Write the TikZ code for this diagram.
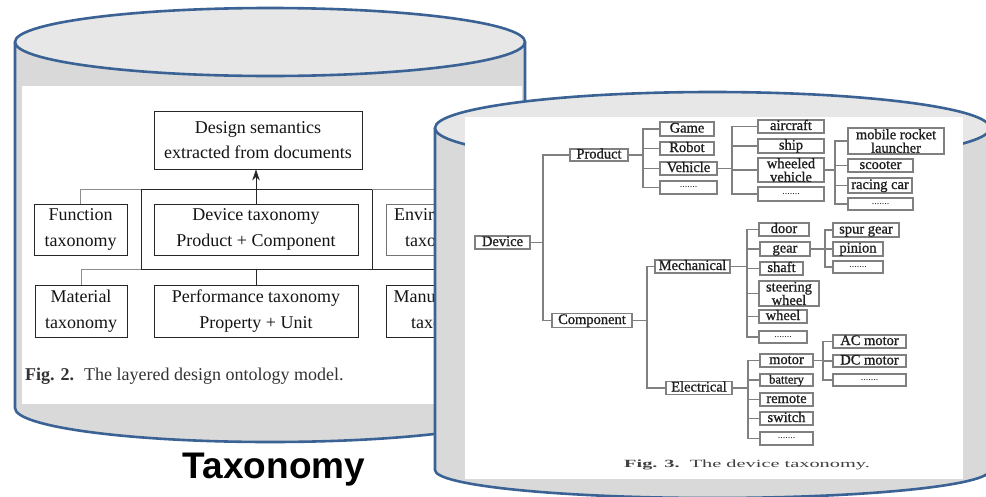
\documentclass[tikz,border=0pt]{standalone}
\usepackage{fontspec}
\usepackage{graphicx}
\setmainfont{Liberation Serif}
\setsansfont{Liberation Sans}
\newfontfamily\scanfont{Liberation Serif}[FakeBold=1.0]
\usetikzlibrary{arrows.meta}

\definecolor{cylblue}{HTML}{3A6294}
\definecolor{bodygray}{HTML}{D9D9D9}
\definecolor{topgray}{HTML}{E7E7E7}
\definecolor{treegray}{HTML}{808080}
\definecolor{inkgray}{HTML}{1E1E1E}

\newcommand\LeftFnt{\fontsize{18}{25.5}\selectfont}
\newcommand\RightFnt{\scanfont\fontsize{14.5}{13.5}\selectfont}
\newcommand\DotFnt{\fontsize{10}{10}\selectfont}

\tikzset{
  cylside/.style={draw=cylblue, line width=2.6pt, fill=bodygray},
  cyltop/.style={draw=cylblue, line width=2.6pt, fill=topgray},
  lbox/.style={draw=black!85, line width=0.9pt, inner sep=0pt, align=center,
    font=\LeftFnt, text=black!92},
  ldark/.style={draw=black!85, line width=0.9pt},
  llight/.style={draw=black!45, line width=0.9pt},
  rbox/.style={draw=treegray, line width=1.1pt, fill=white, inner sep=0pt,
    align=center, font=\RightFnt, text=inkgray},
  rone/.style={rbox, text height=9.5pt, text depth=2.5pt},
  rline/.style={draw=treegray, line width=1.1pt},
}

\begin{document}
\begin{tikzpicture}[x=1pt,y=-1pt]
\useasboundingbox (0,0) rectangle (986,496);
\clip (0,0) rectangle (986,496);
\fill[white] (0,0) rectangle (986,496);

% ---------------- left cylinder ----------------
\filldraw[cylside, line join=round] (15,42) -- (15,408)
  arc[start angle=180, end angle=360, x radius=255pt, y radius=34pt] -- (525,42);
\filldraw[cyltop] (270,42) ellipse [x radius=255pt, y radius=34pt];
\fill[white] (22,86) rectangle (522,404);

% layered design ontology model
\node[lbox, minimum width=208pt, minimum height=58pt] (ds) at (258,140)
  {Design semantics\\extracted from documents};
\node[lbox, minimum width=93pt, minimum height=51pt] (fn) at (80.5,229.5)
  {Function\\taxonomy};
\node[lbox, minimum width=204pt, minimum height=51pt] (dev) at (256,229.5)
  {Device taxonomy\\Product + Component};
\node[lbox, draw=black!55, minimum width=110pt, minimum height=51pt] (env) at (441,229.5)
  {Environment\\taxonomy};
\node[lbox, minimum width=92pt, minimum height=52pt] (mat) at (81,311)
  {Material\\taxonomy};
\node[lbox, minimum width=204pt, minimum height=52pt] (perf) at (256,311)
  {Performance taxonomy\\Property + Unit};
\node[lbox, minimum width=122pt, minimum height=52pt] (man) at (447,311)
  {Manufacturing\\taxonomy};

\coordinate (b1a) at (80,189);
\coordinate (b1b) at (141,189);
\coordinate (b1c) at (372,189);
\coordinate (b1d) at (441,189);
\coordinate (b2a) at (80,269);
\coordinate (b2b) at (141,269);
\coordinate (b2c) at (372,269);
\coordinate (b2d) at (447,269);

\draw[llight] (fn.north) -- (fn.north |- b1a) -- (b1b);
\draw[ldark] (b1b) -- (b1c) -- (b2c);
\draw[llight] (b1c) -- (b1d) -- (env.north);
\draw[ldark] (b1b) -- (b2b);
\draw[llight] (mat.north) -- (mat.north |- b2a) -- (b2b);
\draw[ldark] (b2b) -- (b2d) -- (man.north);
\draw[ldark] (perf.north) -- (perf.north |- b2b);
\draw[ldark, -{Stealth[length=11pt,width=7.5pt]}] (dev.north) -- (ds.south -| dev.north);

\node[anchor=west, font=\LeftFnt, text=black!80, inner sep=0pt] (cap2) at (25,376)
  {\textbf{Fig. 2.}\hspace{0.55em}The layered design ontology model.};

\node[font=\sffamily\bfseries\fontsize{37}{40}\selectfont, inner sep=0pt] (title)
  at (274,470) {Taxonomy};

% ---------------- right cylinder ----------------
\filldraw[cylside, line join=round] (435,128) -- (435,470)
  arc[start angle=180, end angle=360, x radius=277.5pt, y radius=28pt] -- (990,128);
\filldraw[cyltop] (712.5,128) ellipse [x radius=277.5pt, y radius=36pt];
\fill[white] (465,117) rectangle (963,479);

% device taxonomy tree
\node[rone, minimum width=55pt, minimum height=13pt] (device) at (502.5,242.5) {Device};
\node[rone, minimum width=58pt, minimum height=12pt] (product) at (599,155) {Product};
\node[rone, minimum width=80pt, minimum height=14pt] (component) at (592,320.5) {Component};

\node[rone, minimum width=54pt, minimum height=14pt] (game) at (687,129) {Game};
\node[rone, minimum width=54pt, minimum height=13pt] (robot) at (687,148.5) {Robot};
\node[rone, minimum width=57pt, minimum height=13pt] (vehicle) at (688.5,168.5) {Vehicle};
\node[rbox, minimum width=57pt, minimum height=13pt, font=\DotFnt] (pdots) at (688.5,187.5) {.......};

\node[rone, minimum width=66pt, minimum height=13pt] (aircraft) at (791,126.5) {aircraft};
\node[rone, minimum width=66pt, minimum height=14pt] (ship) at (791,146) {ship};
\node[rbox, minimum width=66pt, minimum height=24pt] (wheeled) at (791,170) {wheeled\\vehicle};
\node[rbox, minimum width=66pt, minimum height=14pt, font=\DotFnt] (vdots) at (791,194) {.......};

\node[rbox, minimum width=96pt, minimum height=26pt] (rocket) at (896,141) {mobile rocket\\launcher};
\node[rone, minimum width=65pt, minimum height=13pt] (scooter) at (880.5,165.5) {scooter};
\node[rone, minimum width=64pt, minimum height=15pt] (racing) at (880,185.5) {racing car};
\node[rbox, minimum width=65pt, minimum height=12pt, font=\DotFnt] (wdots) at (880.5,204) {.......};

\node[rone, minimum width=75pt, minimum height=13pt] (mechanical) at (692.5,266.5) {Mechanical};
\node[rone, minimum width=50pt, minimum height=13pt] (door) at (784,229.5) {door};
\node[rone, minimum width=50pt, minimum height=14pt] (gear) at (785,249) {gear};
\node[rone, minimum width=43pt, minimum height=13pt] (shaft) at (781.5,268.5) {shaft};
\node[rbox, minimum width=60pt, minimum height=25pt] (steering) at (789,293.5) {steering\\wheel};
\node[rone, minimum width=48pt, minimum height=13pt] (wheel) at (783,316.5) {wheel};
\node[rbox, minimum width=48pt, minimum height=12pt, font=\DotFnt] (mdots) at (783,337) {.......};

\node[rone, minimum width=66pt, minimum height=14pt] (spur) at (866,230) {spur gear};
\node[rone, minimum width=50pt, minimum height=14pt] (pinion) at (858,249) {pinion};
\node[rbox, minimum width=50pt, minimum height=12pt, font=\DotFnt] (gdots) at (858,267) {.......};

\node[rone, minimum width=66pt, minimum height=13pt] (electrical) at (699,388) {Electrical};
\node[rone, minimum width=53pt, minimum height=13pt] (motor) at (786.5,360.5) {motor};
\node[rone, minimum width=53pt, minimum height=12pt, font=\scanfont\fontsize{12.5}{12}\selectfont] (battery) at (786.5,380) {battery};
\node[rone, minimum width=53pt, minimum height=13pt] (remote) at (786.5,399.5) {remote};
\node[rone, minimum width=53pt, minimum height=13pt] (switch) at (786.5,418.5) {switch};
\node[rbox, minimum width=53pt, minimum height=13pt, font=\DotFnt] (edots) at (786.5,438.5) {.......};

\node[rone, minimum width=73pt, minimum height=13pt] (acm) at (869.5,341.5) {AC motor};
\node[rone, minimum width=73pt, minimum height=12pt] (dcm) at (869.5,361) {DC motor};
\node[rbox, minimum width=73pt, minimum height=12pt, font=\DotFnt] (mdots2) at (869.5,380) {.......};

% trunk positions of the tree branches
\coordinate (tDev) at (543,0);
\coordinate (tProd) at (643,0);
\coordinate (tVeh) at (732,0);
\coordinate (tWhl) at (835,0);
\coordinate (tComp) at (647,0);
\coordinate (tMech) at (747,0);
\coordinate (tGear) at (825,0);
\coordinate (tElec) at (748,0);
\coordinate (tMot) at (823,0);

\foreach \c in {product,component}
  \draw[rline] (device.east) -- (device.east -| tDev) |- (\c.west);
\foreach \c in {game,robot,vehicle,pdots}
  \draw[rline] (product.east) -- (product.east -| tProd) |- (\c.west);
\foreach \c in {aircraft,ship,wheeled,vdots}
  \draw[rline] (vehicle.east) -- (vehicle.east -| tVeh) |- (\c.west);
\foreach \c in {rocket,scooter,racing,wdots}
  \draw[rline] (wheeled.east) -- (wheeled.east -| tWhl) |- (\c.west);
\foreach \c in {mechanical,electrical}
  \draw[rline] (component.east) -- (component.east -| tComp) |- (\c.west);
\foreach \c in {door,gear,shaft,steering,wheel,mdots}
  \draw[rline] (mechanical.east) -- (mechanical.east -| tMech) |- (\c.west);
\foreach \c in {spur,pinion,gdots}
  \draw[rline] (gear.east) -- (gear.east -| tGear) |- (\c.west);
\foreach \c in {motor,battery,remote,switch,edots}
  \draw[rline] (electrical.east) -- (electrical.east -| tElec) |- (\c.west);
\foreach \c in {acm,dcm,mdots2}
  \draw[rline] (motor.east) -- (motor.east -| tMot) |- (\c.west);

\node[anchor=west, inner sep=0pt, text=black!75] (cap3) at (624,465)
  {\scalebox{1.85}[1]{\fontsize{11}{11}\selectfont\textbf{Fig. 3.}\hspace{0.5em}The device taxonomy.}};
\end{tikzpicture}
\end{document}
